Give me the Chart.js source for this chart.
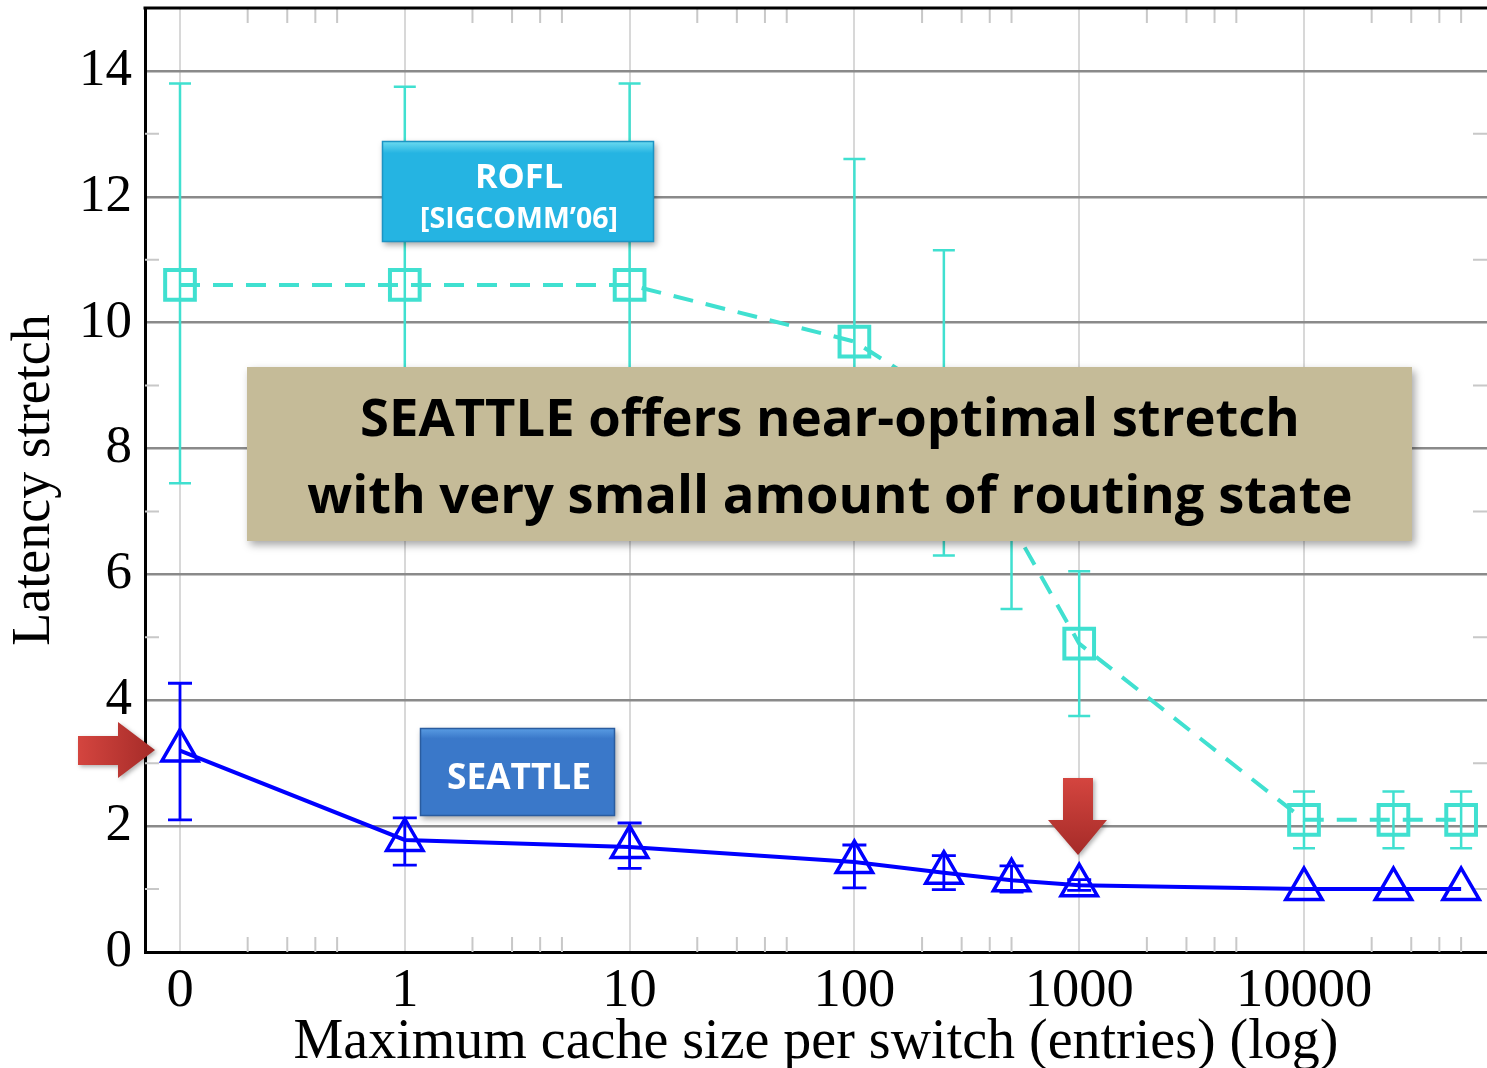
<!DOCTYPE html>
<html>
<head>
<meta charset="utf-8">
<script src="https://cdn.jsdelivr.net/npm/chart.js@4"></script>
<style>
  html, body { margin: 0; padding: 0; background: #fff; }
  #wrap { width: 1487px; height: 1068px; }
</style>
</head>
<body>
<div id="wrap"><canvas id="stretchChart" width="1487" height="1068"></canvas></div>
<script>
// Cache sizes (x values) and the x tick labels
const cacheSizes = [0, 1, 10, 100, 250, 500, 1000, 10000, 25000, 50000];
const tickLabels = ['0', '1', '10', '100', '1000', '10000'];

// ROFL: mean and error-bar ends
const roflMean = [10.6, 10.6, 10.6, 9.7, 8.8, 6.8, 4.9, 2.1, 2.1, 2.1];
const roflLow  = [7.45, 7.4, 7.4, 6.9, 6.3, 5.45, 3.75, 1.65, 1.65, 1.65];
const roflHigh = [13.8, 13.75, 13.8, 12.6, 11.15, 8.2, 6.05, 2.55, 2.55, 2.55];

// SEATTLE: mean and error-bar ends
const seattleMean = [3.2, 1.78, 1.67, 1.43, 1.26, 1.14, 1.06, 1.0, 1.0, 1.0];
const seattleLow  = [2.1, 1.38, 1.33, 1.02, 0.99, 0.95, 0.98, 1.0, 1.0, 1.0];
const seattleHigh = [4.27, 2.13, 2.05, 1.70, 1.53, 1.37, 1.15, 1.0, 1.0, 1.0];

const yTicks = [0, 2, 4, 6, 8, 10, 12, 14];

// "0" sits one decade left of "1"
function pos(v) {
    return v === 0 ? 0 : Math.log10(v) + 1;
}

const ROFL_COLOR = '#40e0d0';
const SEATTLE_COLOR = '#0000ff';
const SERIF = '"Liberation Serif", "Times New Roman", serif';
const SANS = '"Open Sans", "Noto Sans", sans-serif';

function fitFontSize(ctx, text, width, weight, family) {
    ctx.font = `${weight} 100px ${family}`;
    return 100 * width / ctx.measureText(text).width;
}

function drawErrorBars(ctx, xs, ys, lows, highs, color, lw, cap) {
    ctx.save();
    ctx.strokeStyle = color;
    ctx.lineWidth = lw;
    cacheSizes.forEach((v, i) => {
        if (lows[i] === highs[i]) return;
        const x = xs.getPixelForValue(pos(v));
        const yl = ys.getPixelForValue(lows[i]);
        const yh = ys.getPixelForValue(highs[i]);
        ctx.beginPath();
        ctx.moveTo(x, yl); ctx.lineTo(x, yh);
        ctx.moveTo(x - cap, yl); ctx.lineTo(x + cap, yl);
        ctx.moveTo(x - cap, yh); ctx.lineTo(x + cap, yh);
        ctx.stroke();
    });
    ctx.restore();
}

function labelBox(ctx, x, y, w, h, top, bottom, edge) {
    ctx.save();
    ctx.shadowColor = 'rgba(0,0,0,0.35)';
    ctx.shadowBlur = 6;
    ctx.shadowOffsetX = 2;
    ctx.shadowOffsetY = 3;
    const g = ctx.createLinearGradient(0, y, 0, y + h);
    g.addColorStop(0, top);
    g.addColorStop(0.12, bottom);
    g.addColorStop(1, bottom);
    ctx.fillStyle = g;
    ctx.fillRect(x, y, w, h);
    ctx.restore();
    ctx.save();
    ctx.strokeStyle = edge;
    ctx.lineWidth = 1.5;
    ctx.strokeRect(x + 0.5, y + 0.5, w - 1, h - 1);
    ctx.restore();
}

function redArrow(ctx, pts, gx0, gy0, gx1, gy1) {
    ctx.save();
    ctx.shadowColor = 'rgba(0,0,0,0.3)';
    ctx.shadowBlur = 4;
    ctx.shadowOffsetX = 2;
    ctx.shadowOffsetY = 2;
    const g = ctx.createLinearGradient(gx0, gy0, gx1, gy1);
    g.addColorStop(0, '#d4453f');
    g.addColorStop(1, '#a52b28');
    ctx.fillStyle = g;
    ctx.beginPath();
    pts.forEach((p, i) => i ? ctx.lineTo(p[0], p[1]) : ctx.moveTo(p[0], p[1]));
    ctx.closePath();
    ctx.fill();
    ctx.restore();
}

const decorPlugin = {
    id: 'decor',
    beforeDatasetsDraw(chart) {
        const ctx = chart.ctx;
        const xs = chart.scales.x, ys = chart.scales.y;
        const area = chart.chartArea;

        // minor ticks (inward), x: 2..5 of each decade, y: odd values
        ctx.save();
        ctx.strokeStyle = '#c8c8c8';
        ctx.lineWidth = 2;
        ctx.beginPath();
        for (let d = 0; d <= 5; d++) {
            [2, 3, 4, 5].forEach(k => {
                const x = xs.getPixelForValue(d + Math.log10(k));
                if (x > area.right) return;
                ctx.moveTo(x, area.bottom); ctx.lineTo(x, area.bottom - 15);
                ctx.moveTo(x, area.top); ctx.lineTo(x, area.top + 15);
            });
        }
        for (let v = 1; v < 15; v += 2) {
            const y = ys.getPixelForValue(v);
            ctx.moveTo(area.left, y); ctx.lineTo(area.left + 14, y);
            ctx.moveTo(area.right, y); ctx.lineTo(area.right - 14, y);
        }
        ctx.stroke();
        ctx.restore();

        drawErrorBars(ctx, xs, ys, roflLow, roflHigh, ROFL_COLOR, 2.5, 11);
        drawErrorBars(ctx, xs, ys, seattleLow, seattleHigh, SEATTLE_COLOR, 2.8, 12);
    },
    afterDraw(chart) {
        const ctx = chart.ctx;
        const area = chart.chartArea;

        // top frame line
        ctx.save();
        ctx.strokeStyle = '#000';
        ctx.lineWidth = 3;
        ctx.beginPath();
        ctx.moveTo(area.left - 1.5, area.top);
        ctx.lineTo(area.right, area.top);
        ctx.stroke();
        ctx.restore();

        // ROFL label
        labelBox(ctx, 382, 141, 272, 101, '#6fdcf0', '#25b4e2', '#1d94c4');
        ctx.save();
        ctx.fillStyle = '#fff';
        ctx.textAlign = 'center';
        ctx.textBaseline = 'alphabetic';
        let s = fitFontSize(ctx, 'ROFL', 88, 'bold', SANS);
        ctx.font = `bold ${s}px ${SANS}`;
        ctx.fillText('ROFL', 519, 188);
        s = fitFontSize(ctx, '[SIGCOMM\u201906]', 198, 'bold', SANS);
        ctx.font = `bold ${s}px ${SANS}`;
        ctx.fillText('[SIGCOMM\u201906]', 519, 228);
        ctx.restore();

        // SEATTLE label
        labelBox(ctx, 420, 728, 195, 88, '#5a9de4', '#3a78c9', '#2a5c9f');
        ctx.save();
        ctx.fillStyle = '#fff';
        ctx.textAlign = 'center';
        s = fitFontSize(ctx, 'SEATTLE', 144, 'bold', SANS);
        ctx.font = `bold ${s}px ${SANS}`;
        ctx.fillText('SEATTLE', 519, 789);
        ctx.restore();

        // message box
        ctx.save();
        ctx.shadowColor = 'rgba(0,0,0,0.35)';
        ctx.shadowBlur = 8;
        ctx.shadowOffsetX = 3;
        ctx.shadowOffsetY = 4;
        ctx.fillStyle = '#c5bb98';
        ctx.fillRect(247, 367, 1165, 174);
        ctx.restore();
        ctx.save();
        ctx.fillStyle = '#000';
        ctx.textAlign = 'center';
        const l1 = 'SEATTLE offers near-optimal stretch';
        const l2 = 'with very small amount of routing state';
        s = Math.min(fitFontSize(ctx, l1, 940, 'bold', SANS), fitFontSize(ctx, l2, 1046, 'bold', SANS));
        ctx.font = `bold ${s}px ${SANS}`;
        ctx.fillText(l1, 830, 436);
        ctx.fillText(l2, 830, 513);
        ctx.restore();

        // red arrows
        redArrow(ctx, [[78, 736], [118, 736], [118, 722], [155, 750], [118, 778], [118, 765], [78, 765]], 78, 0, 155, 0);
        redArrow(ctx, [[1063, 778], [1093, 778], [1093, 820], [1107, 820], [1078, 855], [1048, 820], [1063, 820]], 0, 778, 0, 855);
    }
};

const ctx = document.getElementById('stretchChart').getContext('2d');

new Chart(ctx, {
    type: 'line',
    data: {
        datasets: [
            {
                label: 'ROFL',
                data: cacheSizes.map((v, i) => ({ x: pos(v), y: roflMean[i] })),
                borderColor: ROFL_COLOR,
                borderWidth: 4,
                borderDash: [20, 13],
                pointStyle: 'rect',
                pointRadius: 21,
                pointBorderWidth: 4,
                pointBorderColor: ROFL_COLOR,
                pointBackgroundColor: 'rgba(0,0,0,0)',
                tension: 0
            },
            {
                label: 'SEATTLE',
                data: cacheSizes.map((v, i) => ({ x: pos(v), y: seattleMean[i] })),
                borderColor: SEATTLE_COLOR,
                borderWidth: 4,
                pointStyle: 'triangle',
                pointRadius: 21,
                pointBorderWidth: 3.5,
                pointBorderColor: SEATTLE_COLOR,
                pointBackgroundColor: 'rgba(0,0,0,0)',
                tension: 0
            }
        ]
    },
    options: {
        responsive: false,
        animation: false,
        layout: { autoPadding: false, padding: { top: 8, right: 0, left: 0, bottom: 0 } },
        plugins: {
            legend: { display: false },
            tooltip: { enabled: false }
        },
        scales: {
            x: {
                type: 'linear',
                min: -35 / 224.8,
                max: 5 + 183 / 224.8,
                afterFit: scale => {
                    scale.height = 116;
                    scale.paddingLeft = 0;
                    scale.paddingRight = 0;
                },
                afterBuildTicks: scale => {
                    scale.ticks = tickLabels.map((t, i) => ({ value: i }));
                },
                ticks: {
                    color: '#000',
                    font: { family: SERIF, size: 54.5 },
                    padding: 7,
                    maxRotation: 0,
                    autoSkip: false,
                    callback: v => tickLabels[v]
                },
                grid: { color: '#d8d8d8', lineWidth: 2, drawTicks: false },
                border: { color: '#000', width: 3 },
                title: {
                    display: true,
                    text: 'Maximum cache size per switch (entries) (log)',
                    color: '#000',
                    font: { family: SERIF, size: 56, lineHeight: 1 },
                    padding: { top: 0, bottom: -3 }
                }
            },
            y: {
                min: 0,
                max: 15,
                afterFit: scale => {
                    scale.width = 145;
                    scale.paddingTop = 0;
                    scale.paddingBottom = 0;
                },
                afterBuildTicks: scale => {
                    scale.ticks = yTicks.map(v => ({ value: v }));
                },
                ticks: {
                    color: '#000',
                    font: { family: SERIF, size: 53 },
                    padding: 13
                },
                grid: { color: '#8a8a8a', lineWidth: 2.5, drawTicks: false },
                border: { color: '#000', width: 3 },
                title: {
                    display: true,
                    text: 'Latency stretch',
                    color: '#000',
                    font: { family: SERIF, size: 54, lineHeight: 1 },
                    padding: { top: 8, bottom: 0 }
                }
            }
        }
    },
    plugins: [decorPlugin]
});
</script>
</body>
</html>
